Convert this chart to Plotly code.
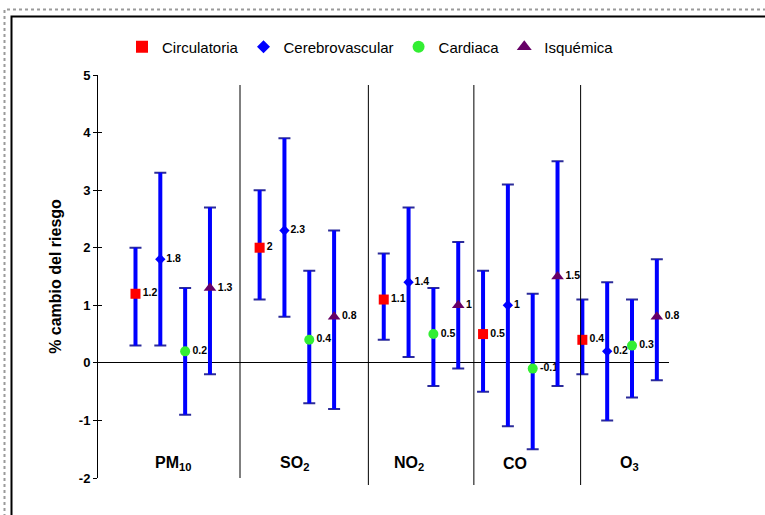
import plotly.graph_objects as go

# ---- data -------------------------------------------------------------
contaminantes = ["PM<sub>10</sub>", "SO<sub>2</sub>", "NO<sub>2</sub>", "CO", "O<sub>3</sub>"]
series = ["Circulatoria", "Cerebrovascular", "Cardiaca", "Isquémica"]

circulatoria = [1.2, 2.0, 1.1, 0.5, 0.4]
circulatoria_inf = [0.3, 1.1, 0.4, -0.5, -0.2]
circulatoria_sup = [2.0, 3.0, 1.9, 1.6, 1.1]

cerebrovascular = [1.8, 2.3, 1.4, 1.0, 0.2]
cerebrovascular_inf = [0.3, 0.8, 0.1, -1.1, -1.0]
cerebrovascular_sup = [3.3, 3.9, 2.7, 3.1, 1.4]

cardiaca = [0.2, 0.4, 0.5, -0.1, 0.3]
cardiaca_inf = [-0.9, -0.7, -0.4, -1.5, -0.6]
cardiaca_sup = [1.3, 1.6, 1.3, 1.2, 1.1]

isquemica = [1.3, 0.8, 1.0, 1.5, 0.8]
isquemica_inf = [-0.2, -0.8, -0.1, -0.4, -0.3]
isquemica_sup = [2.7, 2.3, 2.1, 3.5, 1.8]

y_ticks = [-2, -1, 0, 1, 2, 3, 4, 5]
y_tick_labels = ["-2", "-1", "0", "1", "2", "3", "4", "5"]

# ---- layout helpers ---------------------------------------------------
W, H = 765, 515
ML, MR, MT, MB = 98, 96, 75, 37
PW, PH = W - ML - MR, H - MT - MB


def px_x(px):
    return (px - ML) / PW


def px_y(py):
    return (H - MB - py) / PH


group_start = [1, 6, 11, 15, 19]          # first slot of each pollutant group
separators = [5.21, 10.38, 14.63, 18.93]   # vertical dividers between groups
label_x = [2.5, 7.42, 12.0, 16.3, 20.9]    # pollutant names along the bottom

styles = [
    dict(symbol="square", color="#FF0000", size=10, legend_size=12),
    dict(symbol="diamond", color="#0000FF", size=8, legend_size=10),
    dict(symbol="circle", color="#33EE33", size=10, legend_size=12),
    dict(symbol="triangle-up", color="#660066", size=11, legend_size=13),
]

values = [circulatoria, cerebrovascular, cardiaca, isquemica]
lows = [circulatoria_inf, cerebrovascular_inf, cardiaca_inf, isquemica_inf]
highs = [circulatoria_sup, cerebrovascular_sup, cardiaca_sup, isquemica_sup]

FONT = "Liberation Sans, Arial"

fig = go.Figure()

# caps of the confidence intervals (dark navy), drawn underneath
for k in range(4):
    xs = [g + k for g in group_start]
    fig.add_trace(go.Scatter(
        x=xs, y=values[k], mode="markers",
        marker=dict(size=1, color="rgba(0,0,0,0)"),
        error_y=dict(type="data", symmetric=False,
                     array=[h - v for h, v in zip(highs[k], values[k])],
                     arrayminus=[v - l for v, l in zip(values[k], lows[k])],
                     color="#2B2B99", thickness=2, width=6),
        showlegend=False, hoverinfo="skip",
    ))

# intervals (blue stems), point estimates and their labels
for k, name in enumerate(series):
    xs = [g + k for g in group_start]
    st = styles[k]
    fig.add_trace(go.Scatter(
        x=xs, y=values[k], name=name, mode="markers+text",
        text=[f"{v:g}" for v in values[k]],
        textposition="middle right",
        cliponaxis=False,
        textfont=dict(family=FONT, size=10.5, color="#000000", weight="bold"),
        marker=dict(symbol=st["symbol"], color=st["color"], size=st["size"], line=dict(width=0)),
        error_y=dict(type="data", symmetric=False,
                     array=[h - v for h, v in zip(highs[k], values[k])],
                     arrayminus=[v - l for v, l in zip(values[k], lows[k])],
                     color="#0000FF", thickness=4, width=0),
        showlegend=False,
    ))

# legend entries with slightly larger symbols
for k, name in enumerate(series):
    st = styles[k]
    fig.add_trace(go.Scatter(
        x=[None], y=[None], name=name, mode="markers",
        marker=dict(symbol=st["symbol"], color=st["color"], size=st["legend_size"],
                    line=dict(width=0)),
        showlegend=True, hoverinfo="skip",
    ))

shapes = []
# group dividers
for i, sx in enumerate(separators):
    shapes.append(dict(type="line", xref="x", yref="paper", x0=sx, x1=sx,
                       y0=px_y(478 if i == 0 else 485), y1=px_y(85),
                       line=dict(color="#000000", width=1)))
# outer dotted frame and inner solid frame
shapes.append(dict(type="rect", xref="paper", yref="paper",
                   x0=px_x(4.5), y0=px_y(560), x1=px_x(800), y1=px_y(9.5),
                   line=dict(color="#9A9A9A", width=2, dash="dot"), fillcolor="rgba(0,0,0,0)"))
shapes.append(dict(type="rect", xref="paper", yref="paper",
                   x0=px_x(11.5), y0=px_y(560), x1=px_x(800), y1=px_y(16.5),
                   line=dict(color="#000000", width=2), fillcolor="rgba(0,0,0,0)"))

annotations = []
for lx, lab in zip(label_x, contaminantes):
    annotations.append(dict(x=lx, y=-1.74, xref="x", yref="y", text=lab, showarrow=False,
                            xanchor="center", yanchor="middle",
                            font=dict(family=FONT, size=16, color="#000000", weight="bold")))

fig.update_layout(
    width=W, height=H,
    margin=dict(l=ML, r=MR, t=MT, b=MB, pad=0),
    paper_bgcolor="#FFFFFF", plot_bgcolor="#FFFFFF",
    font=dict(family=FONT, color="#000000"),
    xaxis=dict(range=[-0.51, 22.49], visible=False, fixedrange=True),
    yaxis=dict(range=[-2, 5], tickvals=y_ticks, ticktext=y_tick_labels,
               ticks="outside", ticklen=4, tickcolor="#000000", tickwidth=1,
               showline=True, linecolor="#000000", linewidth=1,
               showgrid=False, zeroline=True, zerolinecolor="#000000", zerolinewidth=1,
               tickfont=dict(size=13, weight="bold", family=FONT),
               title=dict(text="% cambio del riesgo", standoff=13,
                          font=dict(size=16, weight="bold", family=FONT))),
    yaxis2=dict(range=[-2, 5], overlaying="y", side="left", tickvals=y_ticks,
                ticks="inside", ticklen=4, tickcolor="#000000", tickwidth=1,
                showticklabels=False, showline=False, showgrid=False, zeroline=False),
    legend=dict(orientation="h", x=px_x(122), y=px_y(47), xanchor="left", yanchor="middle",
                font=dict(size=15, family=FONT, color="#000000"),
                itemwidth=30, bgcolor="rgba(0,0,0,0)"),
    shapes=shapes,
    annotations=annotations,
    showlegend=True,
)

# invisible trace to activate the inner tick marks on the secondary axis
fig.add_trace(go.Scatter(x=[None], y=[None], yaxis="y2", showlegend=False, hoverinfo="skip"))

fig.write_html("out.html")
